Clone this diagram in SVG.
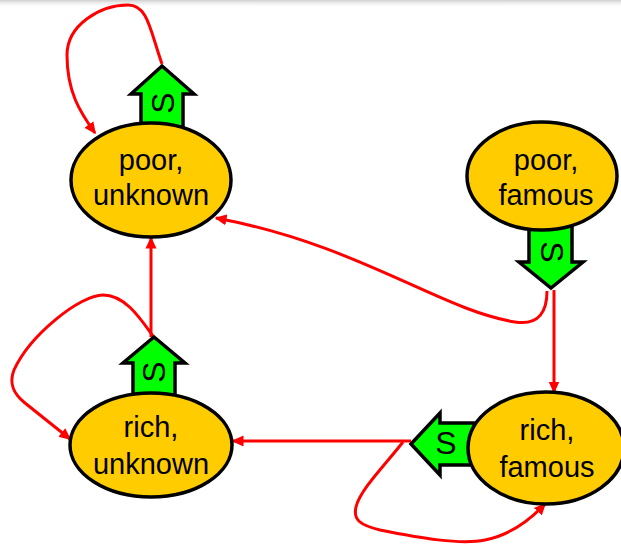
<svg xmlns="http://www.w3.org/2000/svg" width="621" height="548" viewBox="0 0 621 548">
  <style>
    .state { fill: #FFCC00; stroke: #000; stroke-width: 3.5; }
    .act { fill: #00FF00; stroke: #000; stroke-width: 3.5; stroke-linejoin: miter; }
    .label { font-family: "Liberation Sans", Arial, sans-serif; font-size: 29px; fill: #000; text-anchor: middle; }
    .s { font-family: "Liberation Sans", Arial, sans-serif; font-size: 32px; fill: #000; text-anchor: middle; dominant-baseline: central; }
    .edge { fill: none; stroke: #FF0000; stroke-width: 3; marker-end: url(#head); }
  </style>
  <defs>
    <marker id="head" viewBox="0 0 12 12" markerWidth="12" markerHeight="12" markerUnits="userSpaceOnUse" refX="10.5" refY="6" orient="auto">
      <path d="M0,0.5 L12,6 L0,11.5 Z" fill="#FF0000"/>
    </marker>
    <linearGradient id="shade" x1="0" y1="0" x2="0" y2="1">
      <stop offset="0" stop-color="#cfcfcf"/>
      <stop offset="1" stop-color="#ffffff" stop-opacity="0"/>
    </linearGradient>
  </defs>

  <rect width="621" height="548" fill="#fff"/>
  <rect width="621" height="8" fill="url(#shade)"/>

  <!-- transitions -->
  <g id="connectors">
    <path class="edge" d="M162,64 C150,30 148,5 128,5 C100,5 67,25 67,55 C67,92 80,112 95,133"/>
    <path class="edge" d="M547,291 C547,310 540,326 515,322 C440,310 360,245 216,218"/>
    <path class="edge" d="M554,290 L554,392"/>
    <path class="edge" d="M411,441 L233,441"/>
    <path class="edge" d="M403,442 C385,465 360,490 356,507 C353,520 360,525 380,530 C420,538 460,545 485,540 C510,535 530,520 545,504"/>
    <path class="edge" d="M151,337 L151,238"/>
    <path class="edge" d="M153,336 C140,318 125,295 103,295 C80,295 30,335 14,370 C8,385 15,395 25,403 L70,439"/>
  </g>

  <g id="poor-unknown">
    <polygon class="act" points="162,66 194,94 183,94 183,128 141,128 141,94 131,94"/>
    <text class="s" transform="translate(163,103) rotate(-90)">S</text>
    <ellipse class="state" cx="151" cy="180" rx="80" ry="57"/>
    <text class="label" x="151" y="170">poor,</text>
    <text class="label" x="151" y="205">unknown</text>
  </g>

  <g id="poor-famous">
    <polygon class="act" points="529,225 572,225 572,262 583,262 551,288 519,262 529,262"/>
    <text class="s" transform="translate(552,252) rotate(90)">S</text>
    <ellipse class="state" cx="542" cy="176" rx="75" ry="54"/>
    <text class="label" x="546" y="170">poor,</text>
    <text class="label" x="546" y="205">famous</text>
  </g>

  <g id="rich-unknown">
    <polygon class="act" points="154,337 185,363 175,363 175,398 133,398 133,363 123,363"/>
    <text class="s" transform="translate(154,372) rotate(-90)">S</text>
    <ellipse class="state" cx="151" cy="445" rx="81" ry="52"/>
    <text class="label" x="151" y="437">rich,</text>
    <text class="label" x="151" y="474">unknown</text>
  </g>

  <g id="rich-famous">
    <polygon class="act" points="411,444 440,413 440,423 474,423 474,465 440,465 440,475"/>
    <text class="s" x="446" y="443">S</text>
    <ellipse class="state" cx="546" cy="448" rx="78" ry="56"/>
    <text class="label" x="547" y="440">rich,</text>
    <text class="label" x="547" y="477">famous</text>
  </g>
</svg>
